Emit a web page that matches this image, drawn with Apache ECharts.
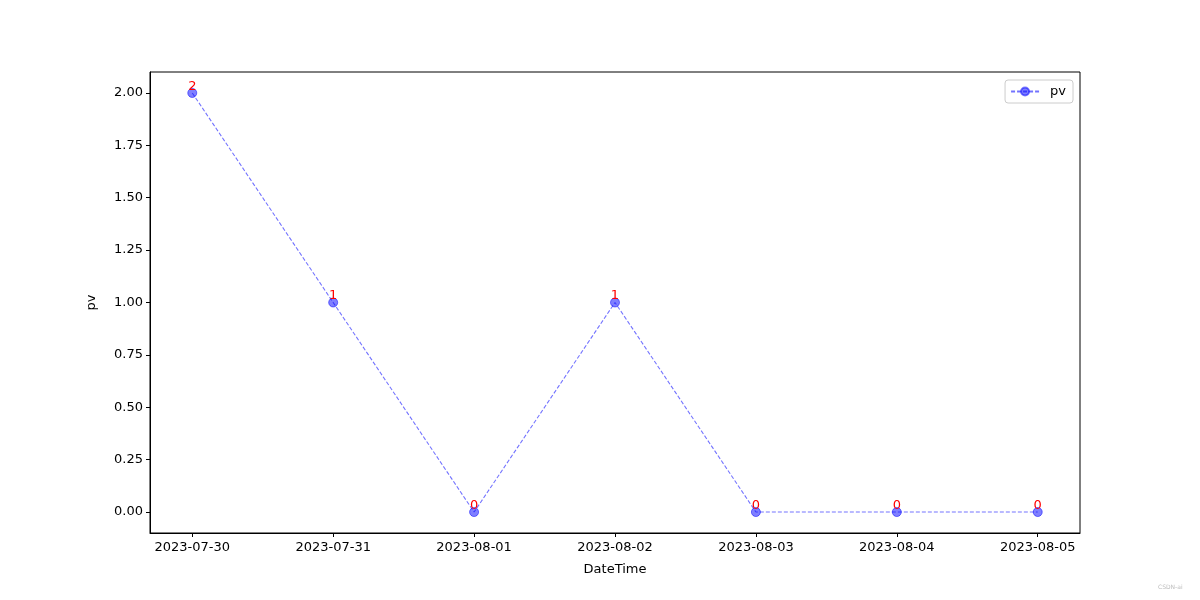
<!DOCTYPE html>
<html>
<head>
<meta charset="utf-8">
<script src="https://cdn.jsdelivr.net/npm/echarts@6/dist/echarts.min.js"></script>
<style>html,body{margin:0;padding:0;background:#fff}#c{width:1200px;height:600px}</style>
</head>
<body>
<div id="c"></div>
<script>
const categories = ['2023-07-30','2023-07-31','2023-08-01','2023-08-02','2023-08-03','2023-08-04','2023-08-05'];
const pvValues = [2, 1, 0, 1, 0, 0, 0];
const yTicks = [0, 0.25, 0.5, 0.75, 1.0, 1.25, 1.5, 1.75, 2.0];

const chart = echarts.init(document.getElementById('c'), null, {renderer: 'canvas'});
const font = 'DejaVu Sans';
const xIdx = categories.map((_, i) => i);
chart.setOption({
  animation: false,
  backgroundColor: '#fff',
  textStyle: {fontFamily: font},
  grid: {left: 150, right: 120, top: 72, bottom: 67, show: true, borderColor: '#000', borderWidth: 1, backgroundColor: 'transparent'},
  legend: {
    show: true, right: 127, top: 80, orient: 'vertical',
    backgroundColor: '#fff', borderColor: '#ccc', borderWidth: 1, borderRadius: 3,
    padding: [5, 7, 5, 5],
    itemWidth: 28, itemHeight: 10, itemGap: 5,
    textStyle: {fontFamily: font, fontSize: 13, color: '#000', padding: [0, 0, 0, 6]},
    data: ['pv']
  },
  xAxis: {
    type: 'value', min: -0.3, max: 6.3,
    name: 'DateTime', nameLocation: 'middle', nameGap: 30,
    nameTextStyle: {fontFamily: font, fontSize: 13, color: '#000'},
    splitLine: {show: false},
    axisLine: {show: true, onZero: false, lineStyle: {color: '#000'}},
    axisTick: {show: true, length: 4, lineStyle: {color: '#000'}, customValues: xIdx},
    axisLabel: {customValues: xIdx, color: '#000', fontFamily: font, fontSize: 13, margin: 8,
      formatter: v => categories[Math.round(v)] || ''}
  },
  yAxis: {
    type: 'value', min: -0.1, max: 2.1,
    name: 'pv', nameLocation: 'middle', nameGap: 52, nameRotate: 90,
    nameTextStyle: {fontFamily: font, fontSize: 13, color: '#000'},
    splitLine: {show: false},
    axisLine: {show: true, onZero: false, lineStyle: {color: '#000'}},
    axisTick: {show: true, length: 4, lineStyle: {color: '#000'}, customValues: yTicks},
    axisLabel: {customValues: yTicks, color: '#000', fontFamily: font, fontSize: 13, margin: 7,
      formatter: v => v.toFixed(2)}
  },
  series: [{
    name: 'pv', type: 'line',
    data: pvValues.map((v, i) => [xIdx[i], v]),
    symbol: 'circle', symbolSize: 9,
    itemStyle: {color: 'rgba(0,0,255,0.5)', borderColor: 'rgba(0,0,255,0.5)', borderWidth: 1},
    lineStyle: {color: 'rgba(0,0,255,0.55)', width: 1.1, type: [4, 2]},
    label: {show: true, position: 'top', distance: 0, offset: [0, 5], color: '#ff0000',
      fontFamily: font, fontSize: 13, formatter: p => String(p.value[1])},
    emphasis: {disabled: true}
  }],
  graphic: [{
    type: 'text', left: 1158, top: 584,
    style: {text: 'CSDN-ai', fill: '#bbb', font: '6px ' + font}
  }]
});
</script>
</body>
</html>
